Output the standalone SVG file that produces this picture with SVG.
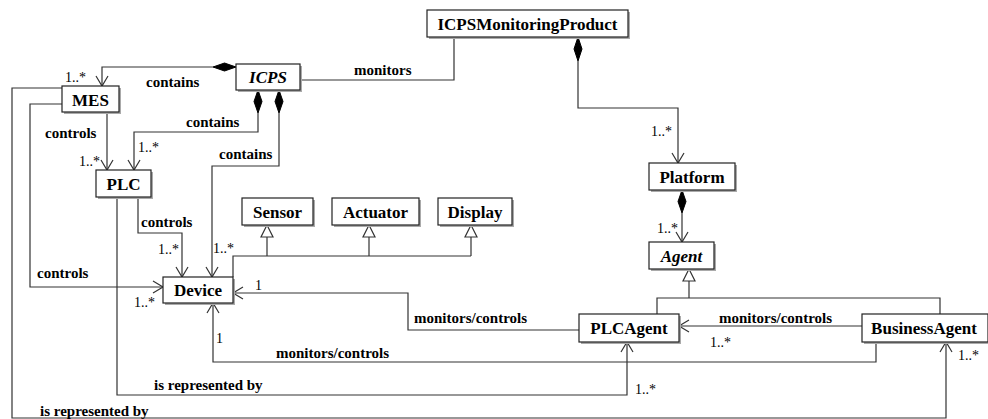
<svg xmlns="http://www.w3.org/2000/svg" width="988" height="419" viewBox="0 0 988 419">
<style>
.box{fill:#fff;stroke:#222;stroke-width:1.2}
.sh{fill:#aaa}
.nt{font-family:'Liberation Serif','Times New Roman',Tinos,'DejaVu Serif',serif;font-weight:bold;font-size:17px;fill:#000;text-anchor:middle}
.it{font-style:italic}
.lb{font-family:'Liberation Serif','Times New Roman',Tinos,'DejaVu Serif',serif;font-weight:bold;font-size:15px;fill:#000}
.m{font-family:'Liberation Serif','Times New Roman',Tinos,'DejaVu Serif',serif;font-size:14px;fill:#000}
.ln{fill:none;stroke:#333;stroke-width:1.2}
.ar{fill:none;stroke:#333;stroke-width:1.2}
.dm{fill:#000;stroke:#000;stroke-width:1}
.tr{fill:#fff;stroke:#333;stroke-width:1.2}
</style>
<rect width="988" height="419" fill="#fff"/>
<g id="connectors">
<path class="ln" d="M213,67 H102 V86"/>
<polygon class="dm" points="236,67 224.5,63 213,67 224.5,71"/>
<path class="ar" d="M96,76 L102,86 L108,76"/>
<path class="ln" d="M300,80 H454 V37"/>
<path class="ln" d="M578,61 V108 H678 V163"/>
<polygon class="dm" points="578,37 574,49 578,61 582,49"/>
<path class="ar" d="M672,153 L678,163 L684,153"/>
<path class="ln" d="M258,113 V132 H134 V170"/>
<polygon class="dm" points="258,90 254,101.5 258,113 262,101.5"/>
<path class="ar" d="M128,160 L134,170 L140,160"/>
<path class="ln" d="M279,113 V166 H212 V277"/>
<polygon class="dm" points="279,90 275,101.5 279,113 283,101.5"/>
<path class="ar" d="M206,267 L212,277 L218,267"/>
<path class="ln" d="M107,112 V170"/>
<path class="ar" d="M101,160 L107,170 L113,160"/>
<path class="ln" d="M62,104 H30 V287 H163"/>
<path class="ar" d="M153,281 L163,287 L153,293"/>
<path class="ln" d="M62,88 H12 V418 H946 V342"/>
<path class="ar" d="M940,352 L946,342 L952,352"/>
<path class="ln" d="M138,197 V233 H182 V277"/>
<path class="ar" d="M176,267 L182,277 L188,267"/>
<path class="ln" d="M117,197 V395 H627 V342"/>
<path class="ar" d="M621,352 L627,342 L633,352"/>
<path class="ln" d="M233,277 V256 H471 M267,256 V237 M369,256 V237 M471,256 V237"/>
<polygon class="tr" points="267,225 261,237 273,237"/>
<polygon class="tr" points="369,225 363,237 375,237"/>
<polygon class="tr" points="471,225 465,237 477,237"/>
<path class="ln" d="M579,330 H408 V293 H233"/>
<path class="ar" d="M243,287 L233,293 L243,299"/>
<path class="ln" d="M876,342 V362 H213 V303"/>
<path class="ar" d="M207,313 L213,303 L219,313"/>
<path class="ln" d="M862,326 H679"/>
<path class="ar" d="M689,320 L679,326 L689,332"/>
<path class="ln" d="M682,213 V242"/>
<polygon class="dm" points="682,190 678,201.5 682,213 686,201.5"/>
<path class="ar" d="M676,232 L682,242 L688,232"/>
<path class="ln" d="M657,314 V298 H940 V314 M689,298 V281"/>
<polygon class="tr" points="689,269 683,281 695,281"/>
</g>
<g id="labels">
<text class="lb" x="146" y="87">contains</text>
<text class="m" x="65" y="82">1..*</text>
<text class="lb" x="354" y="75">monitors</text>
<text class="m" x="651" y="136">1..*</text>
<text class="lb" x="186" y="127">contains</text>
<text class="m" x="138" y="152">1..*</text>
<text class="lb" x="219" y="159">contains</text>
<text class="lb" x="45" y="138">controls</text>
<text class="m" x="79" y="166">1..*</text>
<text class="lb" x="141" y="227">controls</text>
<text class="m" x="158" y="254">1..*</text>
<text class="m" x="213" y="253">1..*</text>
<text class="lb" x="37" y="278">controls</text>
<text class="m" x="134" y="307">1..*</text>
<text class="m" x="255" y="290">1</text>
<text class="lb" x="414" y="323">monitors/controls</text>
<text class="m" x="216" y="343">1</text>
<text class="lb" x="276" y="358">monitors/controls</text>
<text class="lb" x="154" y="390">is represented by</text>
<text class="m" x="635" y="394">1..*</text>
<text class="lb" x="40" y="416">is represented by</text>
<text class="lb" x="719" y="323">monitors/controls</text>
<text class="m" x="710" y="347">1..*</text>
<text class="m" x="958" y="360">1..*</text>
<text class="m" x="657" y="233">1..*</text>
</g>
<g id="ICPSMonitoringProduct"><rect class="sh" x="429" y="12" width="201" height="27"/><rect class="box" x="427" y="10" width="201" height="27"/><text class="nt" x="527.5" y="29.5">ICPSMonitoringProduct</text></g>
<g id="ICPS"><rect class="sh" x="238" y="66" width="64" height="26"/><rect class="box" x="236" y="64" width="64" height="26"/><text class="nt it" x="268" y="83">ICPS</text></g>
<g id="MES"><rect class="sh" x="64" y="88" width="57" height="26"/><rect class="box" x="62" y="86" width="57" height="26"/><text class="nt" x="90.5" y="106">MES</text></g>
<g id="PLC"><rect class="sh" x="98" y="172" width="55" height="27"/><rect class="box" x="96" y="170" width="55" height="27"/><text class="nt" x="123.5" y="190">PLC</text></g>
<g id="Device"><rect class="sh" x="165" y="279" width="70" height="26"/><rect class="box" x="163" y="277" width="70" height="26"/><text class="nt" x="198" y="296">Device</text></g>
<g id="Sensor"><rect class="sh" x="244" y="200" width="71" height="27"/><rect class="box" x="242" y="198" width="71" height="27"/><text class="nt" x="277.5" y="217.5">Sensor</text></g>
<g id="Actuator"><rect class="sh" x="334" y="200" width="87" height="27"/><rect class="box" x="332" y="198" width="87" height="27"/><text class="nt" x="375.5" y="217.5">Actuator</text></g>
<g id="Display"><rect class="sh" x="440" y="200" width="74" height="27"/><rect class="box" x="438" y="198" width="74" height="27"/><text class="nt" x="475" y="217.5">Display</text></g>
<g id="Platform"><rect class="sh" x="651" y="165" width="86" height="27"/><rect class="box" x="649" y="163" width="86" height="27"/><text class="nt" x="692" y="182.5">Platform</text></g>
<g id="Agent"><rect class="sh" x="651" y="244" width="65" height="27"/><rect class="box" x="649" y="242" width="65" height="27"/><text class="nt it" x="681.5" y="261.5">Agent</text></g>
<g id="PLCAgent"><rect class="sh" x="581" y="316" width="100" height="28"/><rect class="box" x="579" y="314" width="100" height="28"/><text class="nt" x="629" y="334">PLCAgent</text></g>
<g id="BusinessAgent"><rect class="sh" x="864" y="316" width="126" height="28"/><rect class="box" x="862" y="314" width="126" height="28"/><text class="nt" x="924" y="334">BusinessAgent</text></g>
</svg>
